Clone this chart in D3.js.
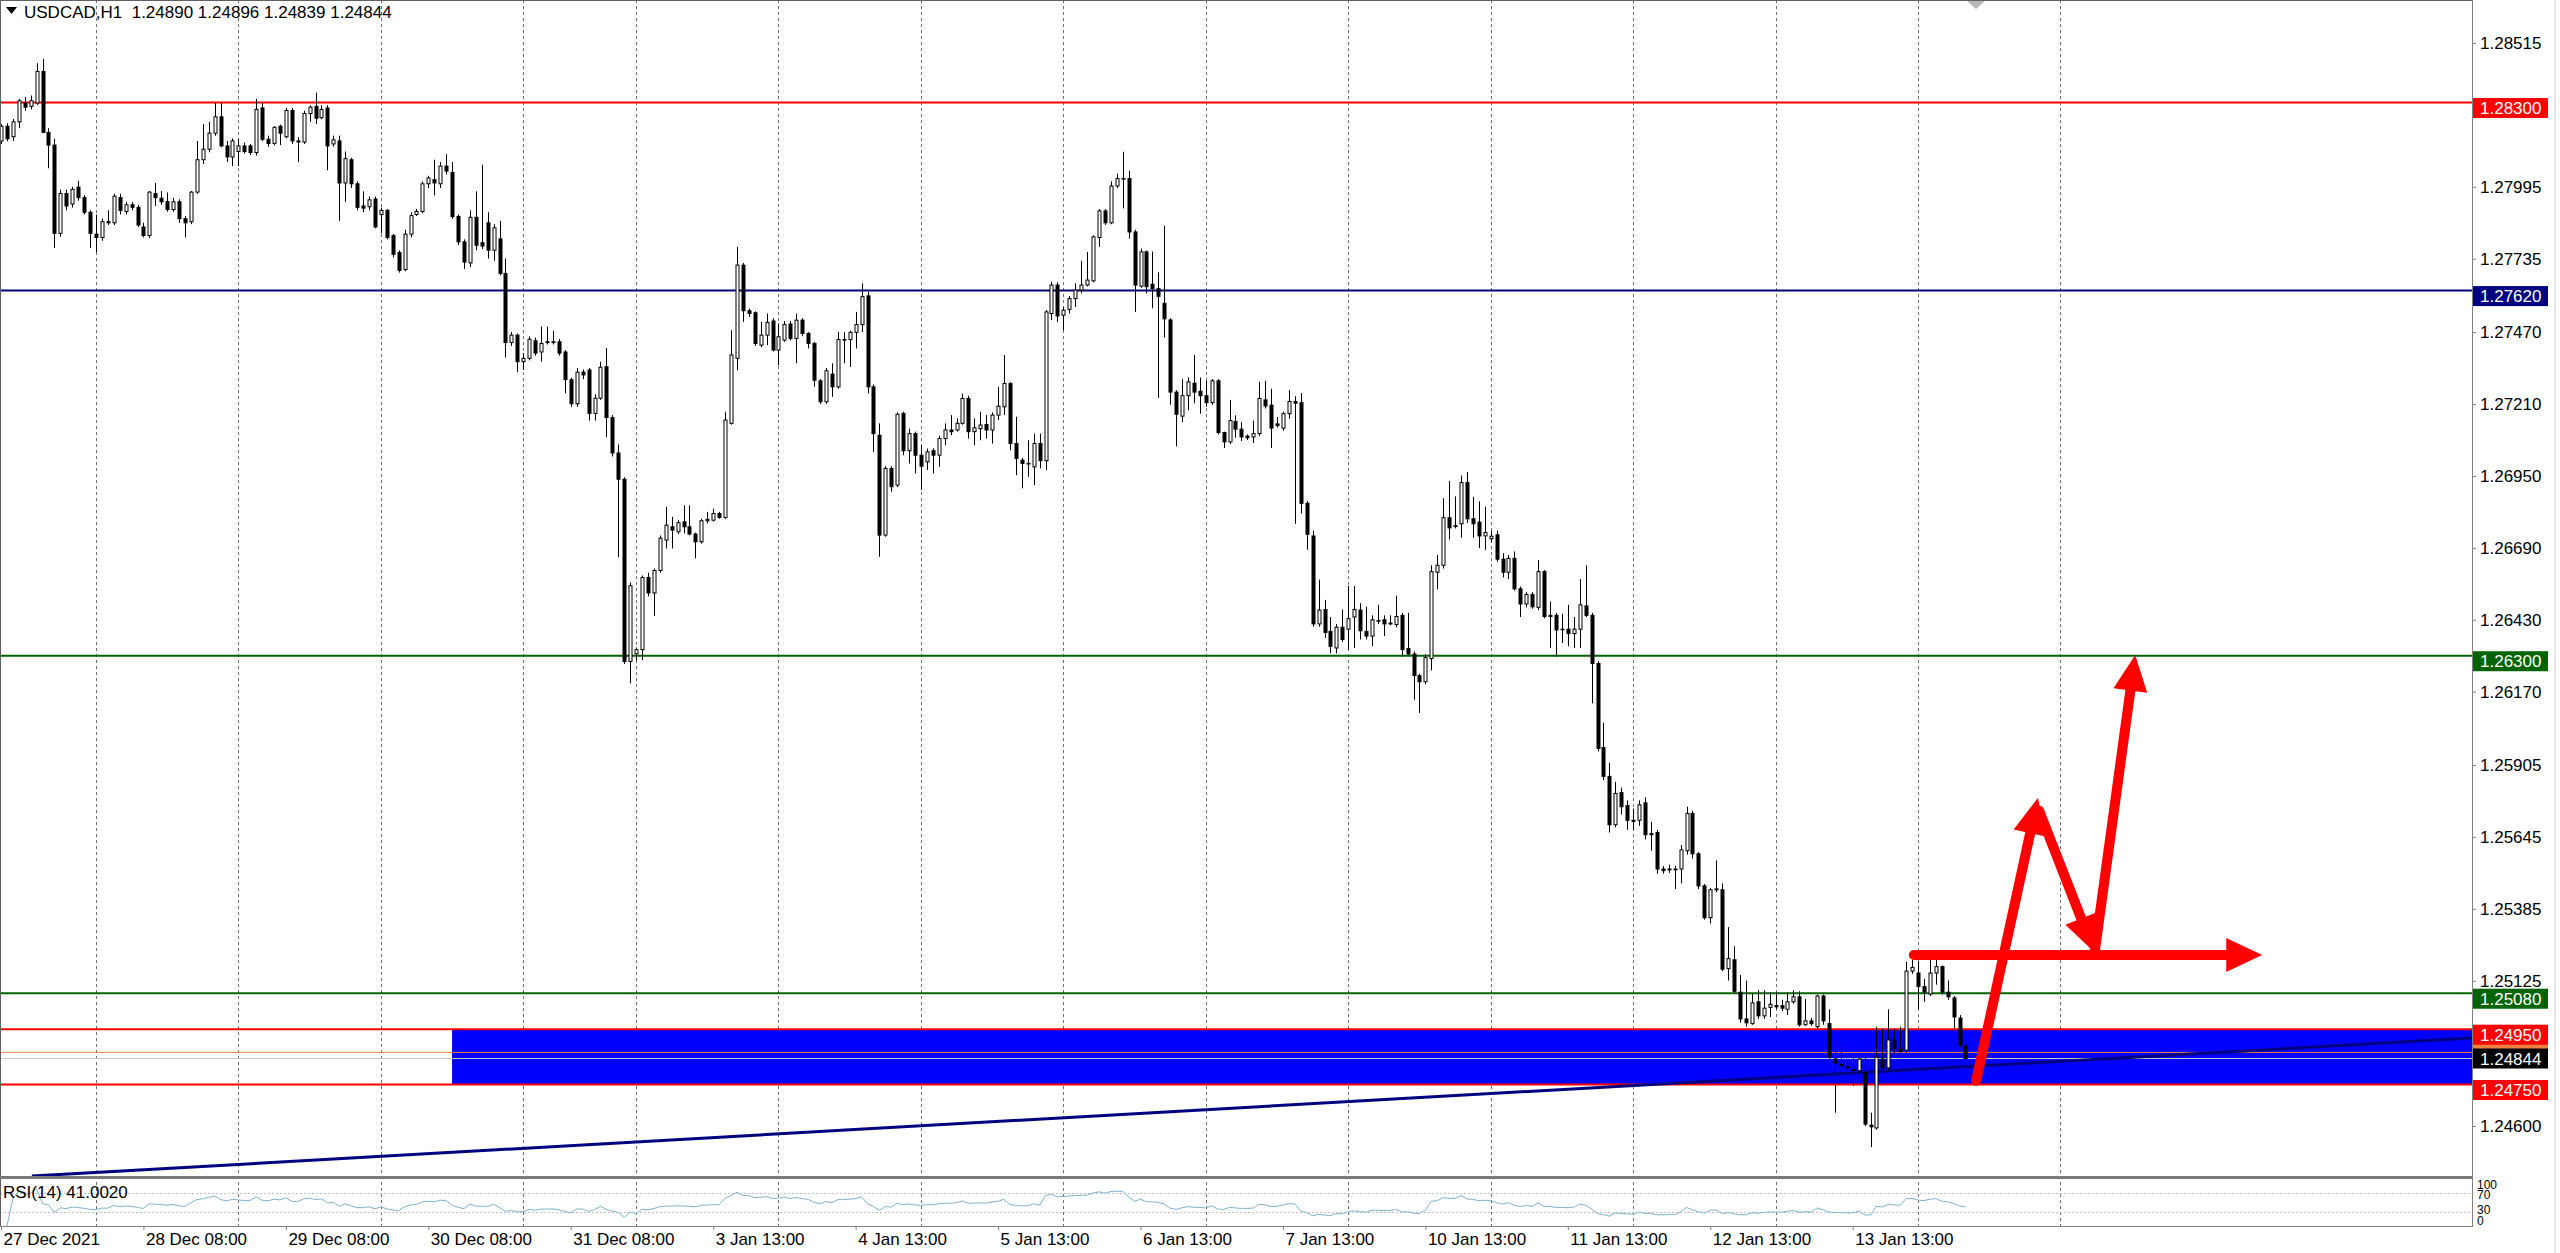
<!DOCTYPE html>
<html><head><meta charset="utf-8">
<script src="https://cdn.jsdelivr.net/npm/d3@7"></script>
<style>
html,body{margin:0;padding:0;background:#fff;overflow:hidden;width:2560px;height:1253px}
svg{display:block}
text{font-family:"Liberation Sans",Arial,sans-serif;font-size:17px;fill:#000}
</style></head>
<body><svg id="chart" width="2560" height="1253"></svg>
<script>
// ---------- DATA ----------
const symbol = "USDCAD,H1";
// hourly candles [open, high, low, close], 27 Dec 2021 08:00 .. 14 Jan 2022 07:00
const candles = [
[1.28161,1.28222,1.28150,1.28214],[1.28214,1.28225,1.28160,1.28169],[1.28176,1.28240,1.28161,1.28230],[1.28230,1.28313,1.28207,1.28306],
[1.28298,1.28320,1.28270,1.28283],[1.28286,1.28325,1.28275,1.28306],[1.28298,1.28442,1.28290,1.28412],[1.28412,1.28458,1.28190,1.28192],
[1.28192,1.28207,1.28062,1.28146],[1.28146,1.28169,1.27774,1.27827],[1.27827,1.27985,1.27815,1.27971],[1.27971,1.27985,1.27910,1.27926],
[1.27933,1.27995,1.27920,1.27986],[1.27994,1.28017,1.27945,1.27956],[1.27956,1.27965,1.27895,1.27903],[1.27903,1.27910,1.27774,1.27827],
[1.27824,1.27895,1.27758,1.27812],[1.27812,1.27880,1.27800,1.27869],[1.27869,1.27910,1.27857,1.27865],[1.27865,1.27970,1.27857,1.27961],
[1.27956,1.27970,1.27895,1.27910],[1.27906,1.27940,1.27895,1.27930],[1.27930,1.27940,1.27910,1.27921],[1.27921,1.27930,1.27850,1.27857],
[1.27850,1.27865,1.27812,1.27819],[1.27819,1.27980,1.27810,1.27976],[1.27971,1.28009,1.27926,1.27956],[1.27954,1.27980,1.27930,1.27941],
[1.27942,1.27975,1.27905,1.27913],[1.27913,1.27955,1.27905,1.27941],[1.27941,1.27950,1.27865,1.27880],[1.27880,1.27890,1.27812,1.27865],
[1.27869,1.27980,1.27860,1.27976],[1.27976,1.28161,1.27970,1.28093],[1.28093,1.28222,1.28078,1.28131],[1.28131,1.28230,1.28120,1.28189],
[1.28189,1.28298,1.28180,1.28248],[1.28248,1.28298,1.28138,1.28143],[1.28143,1.28161,1.28085,1.28103],[1.28103,1.28170,1.28070,1.28161],
[1.28123,1.28169,1.28070,1.28143],[1.28143,1.28155,1.28115,1.28123],[1.28143,1.28150,1.28110,1.28119],[1.28119,1.28313,1.28108,1.28275],
[1.28280,1.28298,1.28160,1.28167],[1.28167,1.28180,1.28140,1.28152],[1.28152,1.28215,1.28145,1.28210],[1.28214,1.28220,1.28146,1.28189],
[1.28176,1.28280,1.28170,1.28271],[1.28271,1.28280,1.28150,1.28161],[1.28161,1.28175,1.28085,1.28157],[1.28157,1.28270,1.28150,1.28260],
[1.28260,1.28290,1.28230,1.28283],[1.28286,1.28336,1.28222,1.28243],[1.28245,1.28290,1.28240,1.28275],[1.28280,1.28290,1.28055,1.28143],
[1.28150,1.28180,1.28140,1.28165],[1.28161,1.28180,1.27872,1.28009],[1.28009,1.28123,1.27941,1.28097],[1.28093,1.28100,1.27991,1.28006],
[1.28006,1.28015,1.27910,1.27921],[1.27926,1.27979,1.27903,1.27918],[1.27923,1.27960,1.27910,1.27948],[1.27951,1.27960,1.27845,1.27850],
[1.27895,1.27920,1.27827,1.27910],[1.27910,1.27915,1.27805,1.27812],[1.27819,1.27825,1.27740,1.27751],[1.27758,1.27765,1.27685,1.27693],
[1.27696,1.27840,1.27690,1.27824],[1.27824,1.27903,1.27812,1.27891],[1.27895,1.27915,1.27890,1.27906],[1.27906,1.28015,1.27900,1.28006],
[1.28006,1.28035,1.27990,1.28027],[1.28021,1.28093,1.27964,1.28009],[1.28006,1.28085,1.27991,1.28070],[1.28070,1.28113,1.28040,1.28052],
[1.28047,1.28085,1.27880,1.27888],[1.27888,1.27895,1.27785,1.27796],[1.27796,1.27805,1.27698,1.27723],[1.27720,1.27910,1.27705,1.27885],
[1.27885,1.27979,1.27766,1.27784],[1.27793,1.28075,1.27770,1.27781],[1.27865,1.27903,1.27736,1.27766],[1.27766,1.27860,1.27728,1.27847],
[1.27807,1.27872,1.27675,1.27682],[1.27682,1.27736,1.27378,1.27432],[1.27432,1.27470,1.27420,1.27459],[1.27459,1.27465,1.27325,1.27363],
[1.27363,1.27394,1.27333,1.27375],[1.27375,1.27454,1.27368,1.27444],[1.27439,1.27450,1.27385,1.27394],[1.27398,1.27490,1.27363,1.27429],
[1.27435,1.27490,1.27425,1.27432],[1.27432,1.27475,1.27425,1.27435],[1.27435,1.27445,1.27385,1.27394],[1.27398,1.27405,1.27249,1.27298],
[1.27298,1.27305,1.27200,1.27211],[1.27211,1.27340,1.27200,1.27325],[1.27325,1.27335,1.27300,1.27315],[1.27333,1.27340,1.27150,1.27176],
[1.27176,1.27245,1.27150,1.27231],[1.27231,1.27363,1.27225,1.27343],[1.27345,1.27412,1.27090,1.27161],[1.27161,1.27170,1.27020,1.27033],
[1.27033,1.27064,1.26656,1.26938],[1.26938,1.26945,1.26270,1.26279],[1.26279,1.26565,1.26200,1.26553],[1.26307,1.26330,1.26284,1.26322],
[1.26322,1.26590,1.26284,1.26583],[1.26583,1.26600,1.26515,1.26527],[1.26527,1.26615,1.26444,1.26608],[1.26608,1.26735,1.26600,1.26725],
[1.26718,1.26838,1.26688,1.26772],[1.26766,1.26802,1.26688,1.26754],[1.26748,1.26790,1.26740,1.26781],[1.26784,1.26844,1.26742,1.26766],
[1.26766,1.26844,1.26735,1.26740],[1.26740,1.26745,1.26652,1.26712],[1.26712,1.26795,1.26705,1.26788],[1.26788,1.26820,1.26778,1.26793],
[1.26790,1.26832,1.26785,1.26814],[1.26814,1.26820,1.26795,1.26800],[1.26800,1.27182,1.26795,1.27152],[1.27140,1.27477,1.27135,1.27387],
[1.27375,1.27778,1.27332,1.27712],[1.27712,1.27720,1.27507,1.27547],[1.27547,1.27555,1.27525,1.27537],[1.27540,1.27545,1.27420,1.27429],
[1.27423,1.27507,1.27415,1.27459],[1.27459,1.27537,1.27423,1.27505],[1.27510,1.27520,1.27400,1.27405],[1.27405,1.27501,1.27350,1.27453],
[1.27441,1.27510,1.27435,1.27497],[1.27499,1.27510,1.27440,1.27447],[1.27447,1.27537,1.27357,1.27513],[1.27513,1.27520,1.27455,1.27465],
[1.27465,1.27470,1.27411,1.27429],[1.27429,1.27435,1.27272,1.27296],[1.27294,1.27300,1.27210,1.27218],[1.27218,1.27340,1.27210,1.27330],
[1.27318,1.27357,1.27236,1.27272],[1.27272,1.27471,1.27265,1.27443],[1.27443,1.27471,1.27357,1.27441],[1.27443,1.27475,1.27344,1.27469],
[1.27469,1.27543,1.27411,1.27497],[1.27497,1.27646,1.27471,1.27598],[1.27601,1.27615,1.27248,1.27272],[1.27272,1.27280,1.27037,1.27103],
[1.27097,1.27140,1.26658,1.26736],[1.26736,1.26985,1.26730,1.26977],[1.26977,1.26985,1.26893,1.26911],[1.26917,1.27180,1.26910,1.27173],
[1.27176,1.27182,1.27025,1.27041],[1.27041,1.27121,1.26995,1.27103],[1.27103,1.27110,1.26959,1.27025],[1.27025,1.27061,1.26899,1.26985],
[1.27001,1.27049,1.26971,1.27037],[1.27041,1.27050,1.26959,1.27025],[1.27025,1.27095,1.26983,1.27085],[1.27085,1.27140,1.27061,1.27116],
[1.27116,1.27170,1.27097,1.27110],[1.27116,1.27158,1.27110,1.27140],[1.27140,1.27248,1.27135,1.27230],[1.27230,1.27240,1.27085,1.27110],
[1.27110,1.27158,1.27061,1.27124],[1.27121,1.27182,1.27079,1.27134],[1.27136,1.27170,1.27085,1.27116],[1.27116,1.27180,1.27067,1.27170],
[1.27170,1.27272,1.27152,1.27202],[1.27200,1.27387,1.27170,1.27284],[1.27284,1.27290,1.27043,1.27067],[1.27067,1.27164,1.26953,1.27013],
[1.27007,1.27015,1.26905,1.26995],[1.26995,1.27079,1.26947,1.26993],[1.26983,1.27103,1.26917,1.27067],[1.27067,1.27103,1.26977,1.27005],
[1.27005,1.27550,1.26971,1.27543],[1.27537,1.27652,1.27513,1.27640],[1.27640,1.27650,1.27507,1.27528],[1.27531,1.27560,1.27477,1.27549],
[1.27552,1.27600,1.27537,1.27591],[1.27591,1.27646,1.27561,1.27622],[1.27622,1.27728,1.27610,1.27640],[1.27640,1.27760,1.27635,1.27658],
[1.27655,1.27820,1.27650,1.27814],[1.27812,1.27915,1.27778,1.27908],[1.27908,1.27915,1.27857,1.27865],[1.27865,1.28015,1.27860,1.27998],
[1.27998,1.28043,1.27990,1.28025],[1.28025,1.28122,1.27917,1.28023],[1.28025,1.28053,1.27808,1.27832],[1.27832,1.27840,1.27543,1.27640],
[1.27636,1.27772,1.27630,1.27760],[1.27760,1.27765,1.27610,1.27634],[1.27643,1.27761,1.27556,1.27627],[1.27627,1.27686,1.27232,1.27599],
[1.27574,1.27855,1.27450,1.27518],[1.27514,1.27520,1.27207,1.27253],[1.27253,1.27260,1.27057,1.27173],[1.27166,1.27300,1.27144,1.27240],
[1.27240,1.27306,1.27188,1.27290],[1.27285,1.27387,1.27213,1.27253],[1.27256,1.27306,1.27175,1.27240],[1.27240,1.27294,1.27200,1.27215],
[1.27215,1.27300,1.27207,1.27294],[1.27294,1.27300,1.27100,1.27107],[1.27107,1.27110,1.27051,1.27073],[1.27073,1.27225,1.27065,1.27150],
[1.27147,1.27169,1.27088,1.27119],[1.27119,1.27144,1.27076,1.27091],[1.27094,1.27100,1.27080,1.27088],[1.27091,1.27150,1.27069,1.27103],
[1.27103,1.27290,1.27094,1.27230],[1.27225,1.27294,1.27194,1.27203],[1.27206,1.27265,1.27051,1.27123],[1.27138,1.27163,1.27125,1.27132],
[1.27123,1.27182,1.27113,1.27175],[1.27175,1.27260,1.27157,1.27219],[1.27219,1.27238,1.26777,1.27213],[1.27215,1.27250,1.26814,1.26851],
[1.26851,1.26860,1.26683,1.26739],[1.26733,1.26752,1.26405,1.26415],[1.26415,1.26575,1.26405,1.26465],[1.26467,1.26502,1.26365,1.26384],
[1.26388,1.26440,1.26309,1.26334],[1.26328,1.26415,1.26309,1.26403],[1.26403,1.26467,1.26350,1.26359],[1.26396,1.26552,1.26322,1.26434],
[1.26440,1.26552,1.26328,1.26467],[1.26465,1.26490,1.26359,1.26390],[1.26388,1.26477,1.26359,1.26371],[1.26371,1.26446,1.26334,1.26430],
[1.26427,1.26484,1.26415,1.26425],[1.26430,1.26446,1.26371,1.26415],[1.26418,1.26446,1.26410,1.26415],[1.26413,1.26517,1.26403,1.26442],
[1.26446,1.26455,1.26297,1.26322],[1.26326,1.26455,1.26303,1.26306],[1.26306,1.26315,1.26141,1.26228],[1.26228,1.26235,1.26093,1.26206],
[1.26206,1.26306,1.26197,1.26293],[1.26290,1.26627,1.26247,1.26604],[1.26602,1.26664,1.26540,1.26627],[1.26627,1.26870,1.26615,1.26799],
[1.26799,1.26932,1.26720,1.26762],[1.26770,1.26876,1.26760,1.26767],[1.26777,1.26951,1.26727,1.26926],[1.26926,1.26964,1.26780,1.26795],
[1.26795,1.26874,1.26727,1.26777],[1.26783,1.26858,1.26689,1.26733],[1.26733,1.26839,1.26683,1.26745],[1.26723,1.26752,1.26710,1.26732],
[1.26737,1.26752,1.26640,1.26649],[1.26649,1.26671,1.26583,1.26602],[1.26602,1.26664,1.26577,1.26652],[1.26652,1.26677,1.26535,1.26542],
[1.26542,1.26550,1.26440,1.26487],[1.26487,1.26530,1.26475,1.26521],[1.26521,1.26530,1.26470,1.26477],[1.26475,1.26646,1.26465,1.26604],
[1.26604,1.26610,1.26435,1.26442],[1.26446,1.26496,1.26328,1.26442],[1.26446,1.26455,1.26297,1.26393],[1.26396,1.26452,1.26346,1.26394],
[1.26396,1.26484,1.26334,1.26380],[1.26380,1.26440,1.26328,1.26396],[1.26396,1.26577,1.26328,1.26484],[1.26480,1.26627,1.26440,1.26446],
[1.26446,1.26455,1.26128,1.26272],[1.26272,1.26280,1.25954,1.25965],[1.25968,1.26058,1.25850,1.25864],[1.25864,1.25913,1.25661,1.25689],
[1.25689,1.25844,1.25680,1.25802],[1.25805,1.25823,1.25726,1.25754],[1.25758,1.25777,1.25671,1.25705],[1.25705,1.25747,1.25671,1.25701],
[1.25705,1.25777,1.25685,1.25761],[1.25768,1.25788,1.25636,1.25653],[1.25653,1.25699,1.25595,1.25657],[1.25661,1.25670,1.25512,1.25529],
[1.25529,1.25540,1.25512,1.25523],[1.25526,1.25545,1.25515,1.25529],[1.25529,1.25540,1.25457,1.25526],[1.25529,1.25616,1.25477,1.25598],
[1.25595,1.25754,1.25581,1.25730],[1.25730,1.25740,1.25567,1.25584],[1.25584,1.25590,1.25457,1.25468],[1.25468,1.25475,1.25346,1.25353],
[1.25353,1.25460,1.25332,1.25454],[1.25454,1.25560,1.25445,1.25457],[1.25454,1.25477,1.25160,1.25167],[1.25169,1.25319,1.25126,1.25205],
[1.25201,1.25250,1.25080,1.25087],[1.25084,1.25146,1.24973,1.24987],[1.24987,1.25126,1.24959,1.24973],[1.24970,1.25077,1.24966,1.25045],
[1.25049,1.25091,1.24987,1.24998],[1.24998,1.25091,1.24987,1.25026],[1.25029,1.25084,1.24994,1.25040],[1.25035,1.25084,1.25022,1.25031],
[1.25035,1.25056,1.25015,1.25026],[1.25022,1.25084,1.25001,1.25049],[1.25049,1.25091,1.25042,1.25067],[1.25067,1.25087,1.24959,1.24966],
[1.24966,1.25059,1.24962,1.24980],[1.24980,1.24990,1.24962,1.24970],[1.24959,1.25075,1.24952,1.25070],[1.25070,1.25075,1.24966,1.24980],
[1.24970,1.25022,1.24842,1.24849],[1.24842,1.24897,1.24648,1.24828],[1.24824,1.24897,1.24807,1.24818],[1.24814,1.24830,1.24800,1.24810],
[1.24805,1.24849,1.24745,1.24800],[1.24800,1.24849,1.24793,1.24842],[1.24793,1.24849,1.24600,1.24607],[1.24603,1.24648,1.24524,1.24597],
[1.24593,1.24959,1.24587,1.24849],[1.24842,1.24952,1.24807,1.24810],[1.24810,1.25022,1.24800,1.24911],[1.24911,1.24952,1.24863,1.24879],
[1.24879,1.24959,1.24863,1.24870],[1.24874,1.25194,1.24865,1.25160],[1.25160,1.25201,1.25150,1.25173],[1.25153,1.25194,1.25022,1.25104],
[1.25104,1.25132,1.25049,1.25084],[1.25077,1.25201,1.25070,1.25153],[1.25153,1.25215,1.25111,1.25176],[1.25176,1.25180,1.25075,1.25084],
[1.25084,1.25126,1.25056,1.25067],[1.25063,1.25070,1.24952,1.24994],[1.24990,1.25001,1.24885,1.24894],[1.24890,1.24896,1.24839,1.24844]
];
const priceTicks = [1.28515,1.28255,1.27995,1.27735,1.27470,1.27210,1.26950,1.26690,1.26430,1.26170,1.25905,1.25645,1.25385,1.25125,1.24860,1.24600];
const timeLabels = ["27 Dec 2021","28 Dec 08:00","29 Dec 08:00","30 Dec 08:00","31 Dec 08:00","3 Jan 13:00","4 Jan 13:00","5 Jan 13:00","6 Jan 13:00","7 Jan 13:00","10 Jan 13:00","11 Jan 13:00","12 Jan 13:00","13 Jan 13:00"];
const timeLabelBars = [0,24,48,72,96,120,144,168,192,216,240,264,288,312];
const gridBars = [16,40,64,88,107,131,155,179,203,227,251,275,299,323,347];   // day starts
const levelPrices = [1.28300,1.27620,1.26300,1.25080,1.24950,1.24750];
const levelKinds  = ["red","navy","green","green","red","red"];
const zonePrices = [1.24950,1.24750];
const zoneStartBar = 76;
const bidPrice = 1.24844, askPrice = 1.24866;
const trendBars = [5.2, 416.3], trendPrices = [1.24419, 1.24918];
// hand-drawn red arrows: [bar, price] start -> end (tip)
const arrowStarts = [[322.3,1.25218],[332.8,1.24763],[343.4,1.25740],[352.7,1.25218]];
const arrowEnds   = [[381.0,1.25218],[343.2,1.25786],[352.7,1.25229],[359.6,1.26303]];
const rsiPeriod = 14;
const rsiLevels = [70,30];
const rsiAxisLabels = ["100","70","30","0"];

// ---------- SETUP ----------
const svg = d3.select("#chart");
const plotR = 2472, mainB = 1176, rsiT = 1179, rsiB = 1226;
const step = 5.935;
const x = d3.scaleLinear().domain([0,1]).range([1,1+step]);
const y = d3.scaleLinear().domain([1.24600,1.28515]).range([1126,43]);
const yr = d3.scaleLinear().domain([0,100]).range([rsiB,rsiT]);
const colors = {red:"#ff0000", navy:"#000080", green:"#006400"};

const defs = svg.append("defs");
defs.append("clipPath").attr("id","mainClip").append("rect").attr("x",0).attr("y",0).attr("width",plotR).attr("height",mainB);
defs.append("clipPath").attr("id","rsiClip").append("rect").attr("x",0).attr("y",rsiT).attr("width",plotR).attr("height",rsiB-rsiT);

svg.append("rect").attr("width",2560).attr("height",1253).attr("fill","#fff");

// grid (vertical dashed)
const grid = svg.append("g");
gridBars.forEach(b=>{
  const gx = Math.round(x(b))+0.5;
  grid.append("line").attr("x1",gx).attr("x2",gx).attr("y1",0).attr("y2",rsiB)
    .attr("stroke","#707070").attr("stroke-width",1).attr("stroke-dasharray","3,3");
});

const main = svg.append("g").attr("clip-path","url(#mainClip)");

// blue zone
main.append("rect").attr("x",x(zoneStartBar)).attr("width",plotR-x(zoneStartBar))
  .attr("y",y(zonePrices[0])).attr("height",y(zonePrices[1])-y(zonePrices[0])).attr("fill","#0000ff");

// ask / bid lines
main.append("line").attr("x1",0).attr("x2",plotR).attr("y1",y(askPrice)).attr("y2",y(askPrice)).attr("stroke","#f08040").attr("stroke-width",1);
main.append("line").attr("x1",0).attr("x2",plotR).attr("y1",y(bidPrice)).attr("y2",y(bidPrice)).attr("stroke","#c8c8c8").attr("stroke-width",1.2);

// horizontal levels
levelPrices.forEach((p,i)=>{
  main.append("line").attr("x1",0).attr("x2",plotR).attr("y1",y(p)).attr("y2",y(p))
    .attr("stroke",colors[levelKinds[i]]).attr("stroke-width",2);
});

// trend line
main.append("line").attr("x1",x(trendBars[0])).attr("y1",y(trendPrices[0]))
  .attr("x2",x(trendBars[1])).attr("y2",y(trendPrices[1])).attr("stroke","#000080").attr("stroke-width",3);

// candles
const cg = main.append("g");
candles.forEach((d,i)=>{
  const [o,h,l,c] = d;
  const cx = Math.round(x(i));
  const top = y(Math.max(o,c)), bot = y(Math.min(o,c));
  cg.append("line").attr("x1",cx+0.5).attr("x2",cx+0.5).attr("y1",y(Math.max(h,o,c))).attr("y2",y(Math.min(l,o,c)))
    .attr("stroke","#000").attr("stroke-width",1);
  cg.append("rect").attr("x",cx-1).attr("width",3).attr("y",top).attr("height",Math.max(0.5,bot-top))
    .attr("fill", c>=o ? "#fff" : "#000").attr("stroke","#000").attr("stroke-width",1);
});

// red arrows
const ag = main.append("g");
arrowStarts.forEach((s,i)=>{
  const e = arrowEnds[i];
  const x0=x(s[0]), y0=y(s[1]), x1=x(e[0]), y1=y(e[1]);
  const dx=x1-x0, dy=y1-y0, L=Math.hypot(dx,dy), ux=dx/L, uy=dy/L;
  const hl=36, hw=17;
  const bx=x1-ux*hl, by=y1-uy*hl;
  ag.append("line").attr("x1",x0).attr("y1",y0).attr("x2",bx+ux*4).attr("y2",by+uy*4)
    .attr("stroke","#ff0000").attr("stroke-width",10).attr("stroke-linecap","round");
  ag.append("path").attr("d",`M${x1},${y1}L${bx-uy*hw},${by+ux*hw}L${bx+uy*hw},${by-ux*hw}Z`).attr("fill","#ff0000");
});

// chart shift marker
svg.append("path").attr("d","M1966,0L1986,0L1976,9Z").attr("fill","#b8b8b8");

// ---------- RSI ----------
const closes = candles.map(d=>d[3]);
const rsi = [];
let ag2=0, al2=0;
for(let i=1;i<closes.length;i++){
  const ch = closes[i]-closes[i-1], g=Math.max(ch,0), l=Math.max(-ch,0);
  const n = Math.min(i, rsiPeriod);
  ag2 = (ag2*(n-1)+g)/n; al2 = (al2*(n-1)+l)/n;
  rsi.push([i, al2===0 ? 100 : 100-100/(1+ag2/al2)]);
}
const rg = svg.append("g").attr("clip-path","url(#rsiClip)");
rsiLevels.forEach(v=>{
  rg.append("line").attr("x1",0).attr("x2",plotR).attr("y1",Math.round(yr(v))+0.5).attr("y2",Math.round(yr(v))+0.5)
    .attr("stroke","#c0c0c0").attr("stroke-dasharray","2,2");
});
rg.append("path").datum(rsi).attr("d",d3.line().x(d=>x(d[0])).y(d=>yr(d[1])))
  .attr("fill","none").attr("stroke","#7fb3cc").attr("stroke-width",1);
svg.append("text").attr("x",3).attr("y",1198).text(`RSI(${rsiPeriod}) 41.0020`);

// ---------- FRAME ----------
svg.append("line").attr("x1",0).attr("x2",plotR).attr("y1",0.5).attr("y2",0.5).attr("stroke","#606060");
svg.append("line").attr("x1",0.5).attr("x2",0.5).attr("y1",0).attr("y2",rsiB).attr("stroke","#606060");
svg.append("rect").attr("x",0).attr("y",mainB).attr("width",plotR).attr("height",3).attr("fill","#7a7a7a");
svg.append("line").attr("x1",0).attr("x2",plotR).attr("y1",rsiB+0.5).attr("y2",rsiB+0.5).attr("stroke","#808080");
svg.append("line").attr("x1",plotR+0.5).attr("x2",plotR+0.5).attr("y1",0).attr("y2",rsiB+1).attr("stroke","#808080");
svg.append("rect").attr("x",2554).attr("y",0).attr("width",2).attr("height",1253).attr("fill","#e6e6e6");

// label-box centres, used to skip tick labels that the boxes cover
const boxCentres = levelPrices.map(p=>y(p)+5.5).concat([y(bidPrice)]);
const covered = v => boxCentres.some(c=>Math.abs(y(v)-c)<14);

// price axis
const yAxis = d3.axisRight(y).tickValues(priceTicks).tickSize(4).tickPadding(4)
  .tickFormat(d=> covered(d) ? "" : d.toFixed(5));
const ya = svg.append("g").attr("transform",`translate(${plotR},0)`).call(yAxis);
ya.select(".domain").remove();
ya.selectAll("line").attr("stroke","#808080");
ya.selectAll("text").attr("font-family","Liberation Sans, Arial, sans-serif").attr("font-size",17).attr("fill","#000");

// time axis
const xAxis = d3.axisBottom(x).tickValues(timeLabelBars).tickSize(4).tickPadding(3).tickFormat((d,i)=>timeLabels[i]);
const xa = svg.append("g").attr("transform",`translate(0,${rsiB})`).call(xAxis);
xa.select(".domain").remove();
xa.selectAll("line").attr("stroke","#808080");
xa.selectAll("text").attr("text-anchor","start").attr("dx",2).attr("font-family","Liberation Sans, Arial, sans-serif").attr("font-size",17).attr("fill","#000");

// RSI axis labels (small, stacked in the short pane)
const rsiLabelY = [1189,1199,1214,1225];
rsiAxisLabels.forEach((t,i)=>{
  svg.append("text").attr("x",2477).attr("y",rsiLabelY[i]).attr("font-size",12).style("font-size","12px").text(t);
});

// price label boxes
function box(p, fill, centered, withText){
  const yy = y(p);
  const t = centered ? yy-10 : yy-4.5;
  svg.append("rect").attr("x",plotR+1).attr("y",t).attr("width",75).attr("height",20).attr("fill",fill);
  if(withText) svg.append("text").attr("x",plotR+8).attr("y",t+16).style("fill","#fff").text(p.toFixed(5));
}
box(askPrice,"#f08040",true,false);
levelPrices.forEach((p,i)=>{ if(p!==1.24750) box(p, colors[levelKinds[i]], false, true); });
box(bidPrice,"#000000",true,true);
box(1.24750, colors.red, false, true);

// header
const last = candles[candles.length-1];
svg.append("path").attr("d","M6,7L17,7L11.5,14Z").attr("fill","#000");
svg.append("text").attr("x",24).attr("y",18).style("white-space","pre").attr("xml:space","preserve")
  .text(`${symbol}  ${last.map(v=>v.toFixed(5)).join(" ")}`);
</script></body></html>
